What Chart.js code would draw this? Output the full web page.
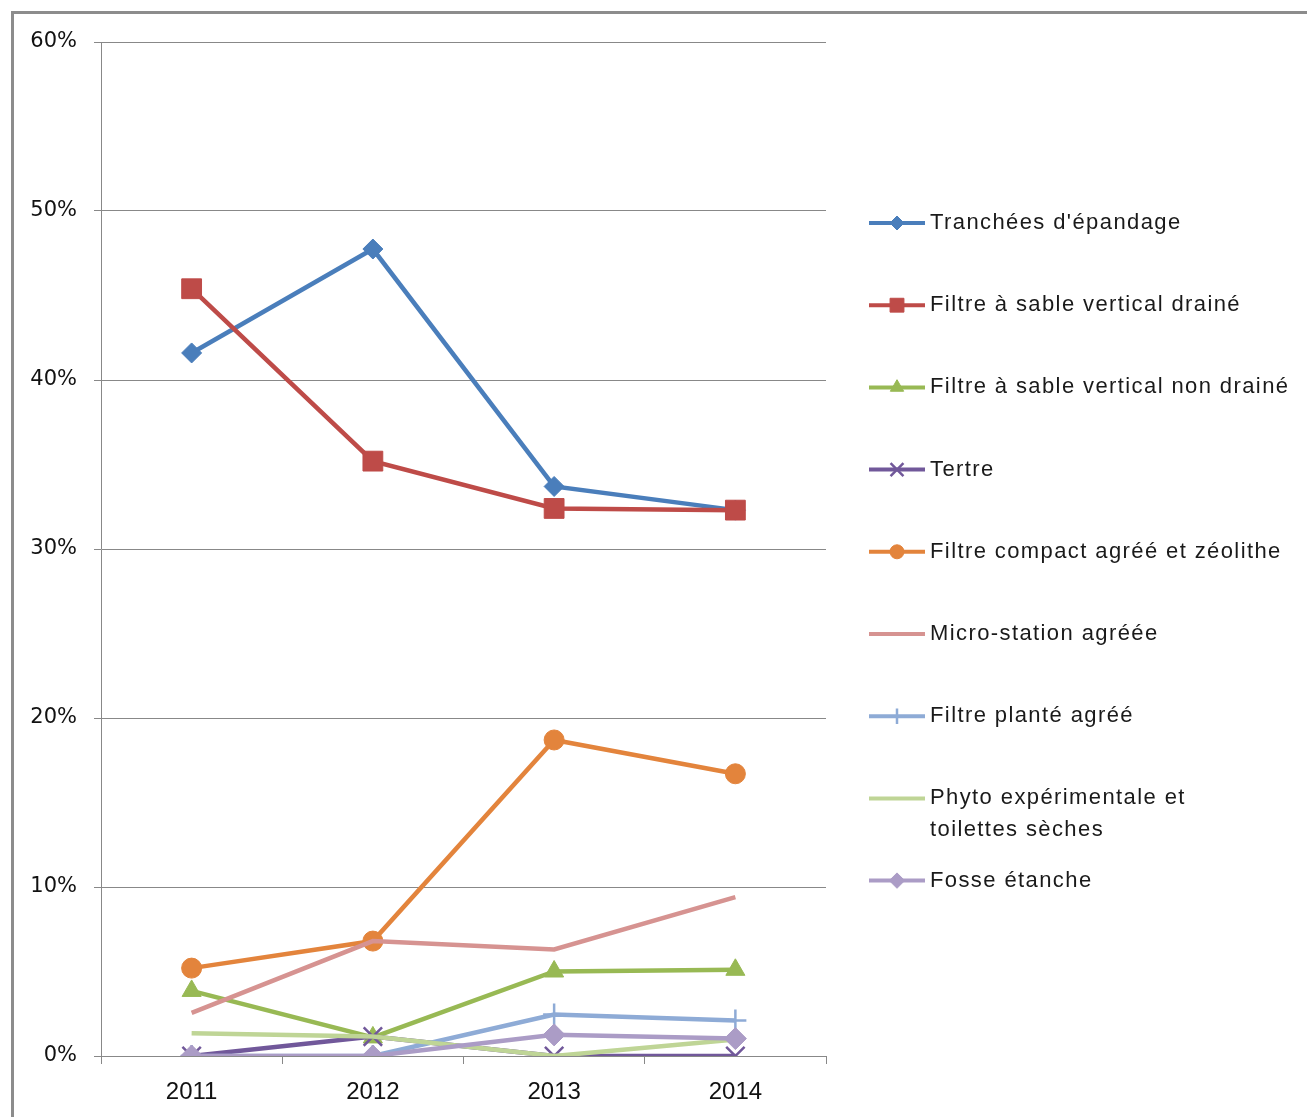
<!DOCTYPE html>
<html>
<head>
<meta charset="utf-8">
<script src="https://cdn.jsdelivr.net/npm/chart.js@4.4.0/dist/chart.umd.min.js"></script>
<style>
  html, body { margin: 0; padding: 0; background: #fff; overflow: hidden; }
  #wrap { position: relative; width: 1307px; height: 1117px; }
</style>
</head>
<body>
<div id="wrap"><canvas id="myChart" width="1307" height="1117"></canvas></div>
<script>
// data (percentages)
var years = ["2011", "2012", "2013", "2014"];
var yTicks = [0, 10, 20, 30, 40, 50, 60];

// "\n" marks where the legend wraps the label
var names = [
  "Tranchées d'épandage",
  "Filtre à sable vertical drainé",
  "Filtre à sable vertical non drainé",
  "Tertre",
  "Filtre compact agréé et zéolithe",
  "Micro-station agréée",
  "Filtre planté agréé",
  "Phyto expérimentale et\ntoilettes sèches",
  "Fosse étanche"
];

var tranchees = [41.6, 47.75, 33.7, 32.3];
var sableDraine = [45.4, 35.2, 32.4, 32.3];
var sableNonDraine = [3.85, 1.1, 5.0, 5.1];
var tertre = [0, 1.15, 0, 0];
var compact = [5.2, 6.8, 18.7, 16.7];
var microStation = [2.55, 6.8, 6.3, 9.4];
var filtrePlante = [0, 0, 2.45, 2.1];
var phyto = [1.35, 1.15, 0, 0.97];
var fosse = [0, 0, 1.25, 1.03];

var series = [tranchees, sableDraine, sableNonDraine, tertre, compact,
  microStation, filtrePlante, phyto, fosse];

// styles
var colors = ["#4A7EBB", "#BE4B48", "#98B954", "#71589A", "#E3843C",
  "#D69391", "#8EABD6", "#BFD596", "#AB9CC6"];
var markers = ["rectRot", "rect", "triangle", "crossRot", "circle",
  false, "cross", false, "rectRot"];
var radii = [10, 14, 11, 13, 10, 0, 11, 0, 11];

var datasets = series.map(function (d, i) {
  var crossLike = markers[i] === "crossRot" || markers[i] === "cross";
  return {
    label: names[i],
    data: d,
    borderColor: colors[i],
    backgroundColor: colors[i],
    borderWidth: 4.5,
    tension: 0,
    pointStyle: markers[i] || "circle",
    pointRadius: radii[i],
    pointHoverRadius: radii[i],
    pointBackgroundColor: colors[i],
    pointBorderColor: colors[i],
    pointBorderWidth: crossLike ? 2.5 : 1,
    order: series.length - i
  };
});

var frame = {
  id: "frame",
  beforeDraw: function (chart) {
    var ctx = chart.ctx;
    ctx.save();
    ctx.fillStyle = "#fff";
    ctx.fillRect(0, 0, chart.width, chart.height);
    ctx.strokeStyle = "#8C8C8C";
    ctx.lineWidth = 3;
    ctx.beginPath();
    ctx.moveTo(12.5, chart.height);
    ctx.lineTo(12.5, 12.5);
    ctx.lineTo(chart.width, 12.5);
    ctx.stroke();
    ctx.restore();
  }
};

var sideLegend = {
  id: "sideLegend",
  afterDraw: function (chart) {
    var ctx = chart.ctx;
    var x0 = 869, x1 = 925, tx = 930, top = 223, step = 82.2;
    ctx.save();
    ctx.font = "22px 'Liberation Sans'";
    ctx.letterSpacing = "1.4px";
    ctx.textBaseline = "middle";
    chart.data.datasets.forEach(function (ds, i) {
      var cy = top + i * step;
      ctx.strokeStyle = ds.borderColor;
      ctx.lineWidth = 4;
      ctx.beginPath();
      ctx.moveTo(x0, cy);
      ctx.lineTo(x1, cy);
      ctx.stroke();
      if (ds.pointRadius > 0) {
        ctx.fillStyle = ds.pointBackgroundColor;
        ctx.strokeStyle = ds.pointBorderColor;
        ctx.lineWidth = ds.pointBorderWidth;
        Chart.helpers.drawPoint(ctx, {
          pointStyle: ds.pointStyle,
          radius: ds.pointRadius * 0.7,
          rotation: 0,
          borderWidth: ds.pointBorderWidth
        }, (x0 + x1) / 2, cy);
      }
      ctx.fillStyle = "#1a1a1a";
      ds.label.split("\n").forEach(function (l, j) {
        ctx.fillText(l, tx, cy + j * 32);
      });
    });
    ctx.restore();
  }
};

var myChart = document.getElementById("myChart").getContext("2d");
var chart = new Chart(myChart, {
  type: "line",
  data: {
    labels: years,
    datasets: datasets
  },
  options: {
    responsive: false,
    animation: false,
    devicePixelRatio: 1,
    layout: {
      padding: { top: 42, right: 481, bottom: 0, left: 0 }
    },
    plugins: {
      legend: { display: false },
      tooltip: { enabled: false }
    },
    scales: {
      x: {
        offset: true,
        afterFit: function (scale) { scale.height = 61; },
        grid: {
          offset: true,
          drawOnChartArea: false,
          drawTicks: true,
          tickLength: 8,
          color: "#888"
        },
        border: { color: "#888", width: 1 },
        ticks: {
          color: "#111",
          padding: 14,
          font: { family: "'Liberation Sans'", size: 24 }
        }
      },
      y: {
        min: yTicks[0],
        max: yTicks[yTicks.length - 1],
        afterFit: function (scale) { scale.width = 101; },
        afterBuildTicks: function (scale) {
          scale.ticks = yTicks.map(function (v) { return { value: v }; });
        },
        grid: {
          color: "#888",
          lineWidth: 1,
          tickLength: 7
        },
        border: { color: "#888", width: 1 },
        ticks: {
          color: "#111",
          padding: 17,
          font: { family: "'DejaVu Sans'", size: 21 },
          callback: function (v) { return v + "%"; }
        }
      }
    }
  },
  plugins: [frame, sideLegend]
});
</script>
</body>
</html>
